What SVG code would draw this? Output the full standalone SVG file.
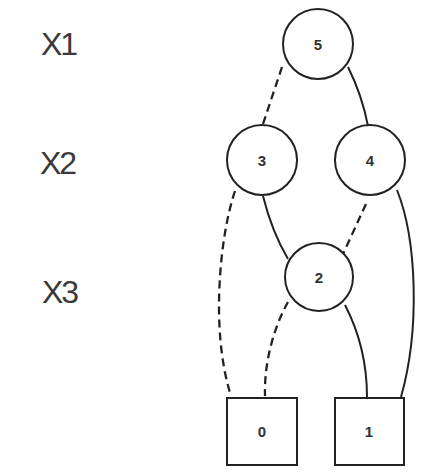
<svg xmlns="http://www.w3.org/2000/svg" width="438" height="472" viewBox="0 0 438 472">
<style>
.lbl{font-family:"Liberation Sans",Arial,sans-serif;font-size:32px;fill:#3a3a3a;letter-spacing:-2px}
.num{font-family:"Liberation Sans",Arial,sans-serif;font-size:15px;fill:#333;text-anchor:middle;font-weight:bold}
.node{fill:none;stroke:#222;stroke-width:2}
.e{fill:none;stroke:#222;stroke-width:2}
.d{stroke-dasharray:8 5;stroke-width:2.3}
</style>
<rect width="438" height="472" fill="#fff"/>
<g id="levels">
<text class="lbl" x="41" y="55">X1</text>
<text class="lbl" x="40" y="174">X2</text>
<text class="lbl" x="42" y="303">X3</text>
</g>
<g id="connectors">
<path class="e d" d="M282,67 L263,124"/>
<path class="e" d="M348,67 Q362,95 368,126"/>
<path class="e d" d="M235,191 C220,235 210,330 231,396"/>
<path class="e" d="M263,196 Q272,232 288,259"/>
<path class="e d" d="M366,204 L343,254"/>
<path class="e" d="M397,190 C417,240 420,330 401,397"/>
<path class="e d" d="M288,302 C275,325 264,360 265,396"/>
<path class="e" d="M345,305 C358,330 367,360 367,397"/>
</g>
<g id="n5"><circle class="node" cx="318" cy="44" r="35"/><text class="num" x="318" y="50">5</text></g>
<g id="n3"><circle class="node" cx="262" cy="160" r="35"/><text class="num" x="262" y="166">3</text></g>
<g id="n4"><circle class="node" cx="370" cy="160" r="35"/><text class="num" x="370" y="166">4</text></g>
<g id="n2"><circle class="node" cx="319" cy="277" r="34"/><text class="num" x="319" y="283">2</text></g>
<g id="t0"><rect class="node" x="227" y="398" width="70" height="67"/><text class="num" x="262" y="437">0</text></g>
<g id="t1"><rect class="node" x="335" y="398" width="69" height="67"/><text class="num" x="369" y="437">1</text></g>
</svg>
